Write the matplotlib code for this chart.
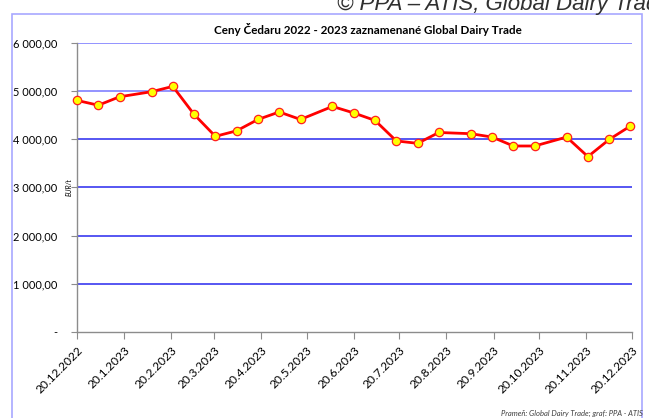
import matplotlib
matplotlib.use("Agg")
import matplotlib.pyplot as plt
from matplotlib.patches import Rectangle
from matplotlib.ticker import FuncFormatter
import datetime as dt

# --- data ---
dates = ["2022-12-20", "2023-01-03", "2023-01-17", "2023-02-07", "2023-02-21",
         "2023-03-07", "2023-03-21", "2023-04-04", "2023-04-18", "2023-05-02",
         "2023-05-16", "2023-06-06", "2023-06-20", "2023-07-04", "2023-07-18",
         "2023-08-01", "2023-08-15", "2023-09-05", "2023-09-19", "2023-10-03",
         "2023-10-17", "2023-11-07", "2023-11-21", "2023-12-05", "2023-12-19"]
prices = [4800, 4700, 4875, 4980, 5090, 4510, 4055, 4170, 4405, 4560,
          4405, 4675, 4540, 4385, 3960, 3910, 4135, 4110, 4040, 3855,
          3855, 4040, 3635, 3990, 4270]
tick_dates = ["2022-12-20", "2023-01-20", "2023-02-20", "2023-03-20", "2023-04-20",
              "2023-05-20", "2023-06-20", "2023-07-20", "2023-08-20", "2023-09-20",
              "2023-10-20", "2023-11-20", "2023-12-20"]
tick_labels = ["20.12.2022", "20.1.2023", "20.2.2023", "20.3.2023", "20.4.2023",
               "20.5.2023", "20.6.2023", "20.7.2023", "20.8.2023", "20.9.2023",
               "20.10.2023", "20.11.2023", "20.12.2023"]
y_ticks = [0, 1000, 2000, 3000, 4000, 5000, 6000]
title = "Ceny Čedaru 2022 - 2023 zaznamenané Global Dairy Trade"
ylabel = "EUR/t"
source = "Prameň: Global Dairy Trade; graf: PPA - ATIS"
header = "© PPA – ATIS, Global Dairy Trade"

FONT = ["Lato", "DejaVu Sans"]
plt.rcParams["font.family"] = FONT

x = [dt.datetime.strptime(d, "%Y-%m-%d") for d in dates]
xt = [dt.datetime.strptime(d, "%Y-%m-%d") for d in tick_dates]

W, H = 649, 418
fig = plt.figure(figsize=(W / 100, H / 100), dpi=100)
fig.patch.set_facecolor("white")

# outer chart border
fig.patches.append(Rectangle((12 / W, -0.1), (642 - 12) / W, 1.1 - 14 / H,
                             transform=fig.transFigure, fill=False,
                             edgecolor="#a8a8ff", linewidth=1.2))

ax = fig.add_axes([77 / W, 1 - 332 / H, (632 - 77) / W, (332 - 42.5) / H])
ax.set_xlim(xt[0], xt[-1])
ax.set_ylim(0, 6000)

grid_colors = ["#3a3af0", "#3a3af0", "#3a3af0", "#3a3af0", "#8080ff", "#8080ff"]
for v, c in zip(y_ticks[1:], grid_colors):
    ax.axhline(v, color=c, linewidth=1.2, zorder=1)

ax.plot(x, prices, color="#ff0000", linewidth=2.0, marker="o", markersize=6,
        markerfacecolor="#ffff00", markeredgecolor="#ff2020", markeredgewidth=0.9,
        zorder=3, clip_on=False)

for s in ["top", "right"]:
    ax.spines[s].set_visible(False)
for s in ["left", "bottom"]:
    ax.spines[s].set_color("#8c8c8c")
    ax.spines[s].set_linewidth(1.0)

ax.set_yticks(y_ticks)
ax.yaxis.set_major_formatter(FuncFormatter(
    lambda v, p: "-" if v == 0 else f"{int(v):,}".replace(",", " ") + ",00"))
ax.set_xticks(xt)
ax.set_xticklabels(tick_labels, rotation=45, ha="right", rotation_mode="anchor")
ax.tick_params(axis="x", colors="#8c8c8c", labelcolor="black", length=5,
               labelsize=8.6, pad=4)
ax.tick_params(axis="y", colors="#8c8c8c", labelcolor="black", length=4,
               labelsize=7.9, pad=10)

ax.text(-0.014, 0.5, ylabel, transform=ax.transAxes, rotation=90,
        fontsize=5, style="italic", ha="center", va="center")
fig.text(368 / W, 1 - 30 / H, title, fontsize=8.4, fontweight="bold",
         ha="center", va="center")

fig.text(643 / W, 1 - 413 / H, source, fontsize=5.5, style="italic",
         ha="right", va="center", color="#404040")
fig.text(337 / W, 1 - 10 / H, header, fontsize=16, style="italic",
         ha="left", va="baseline", color="#303030",
         family=["Liberation Sans", "DejaVu Sans"])

fig.savefig("out.png", dpi=100)
